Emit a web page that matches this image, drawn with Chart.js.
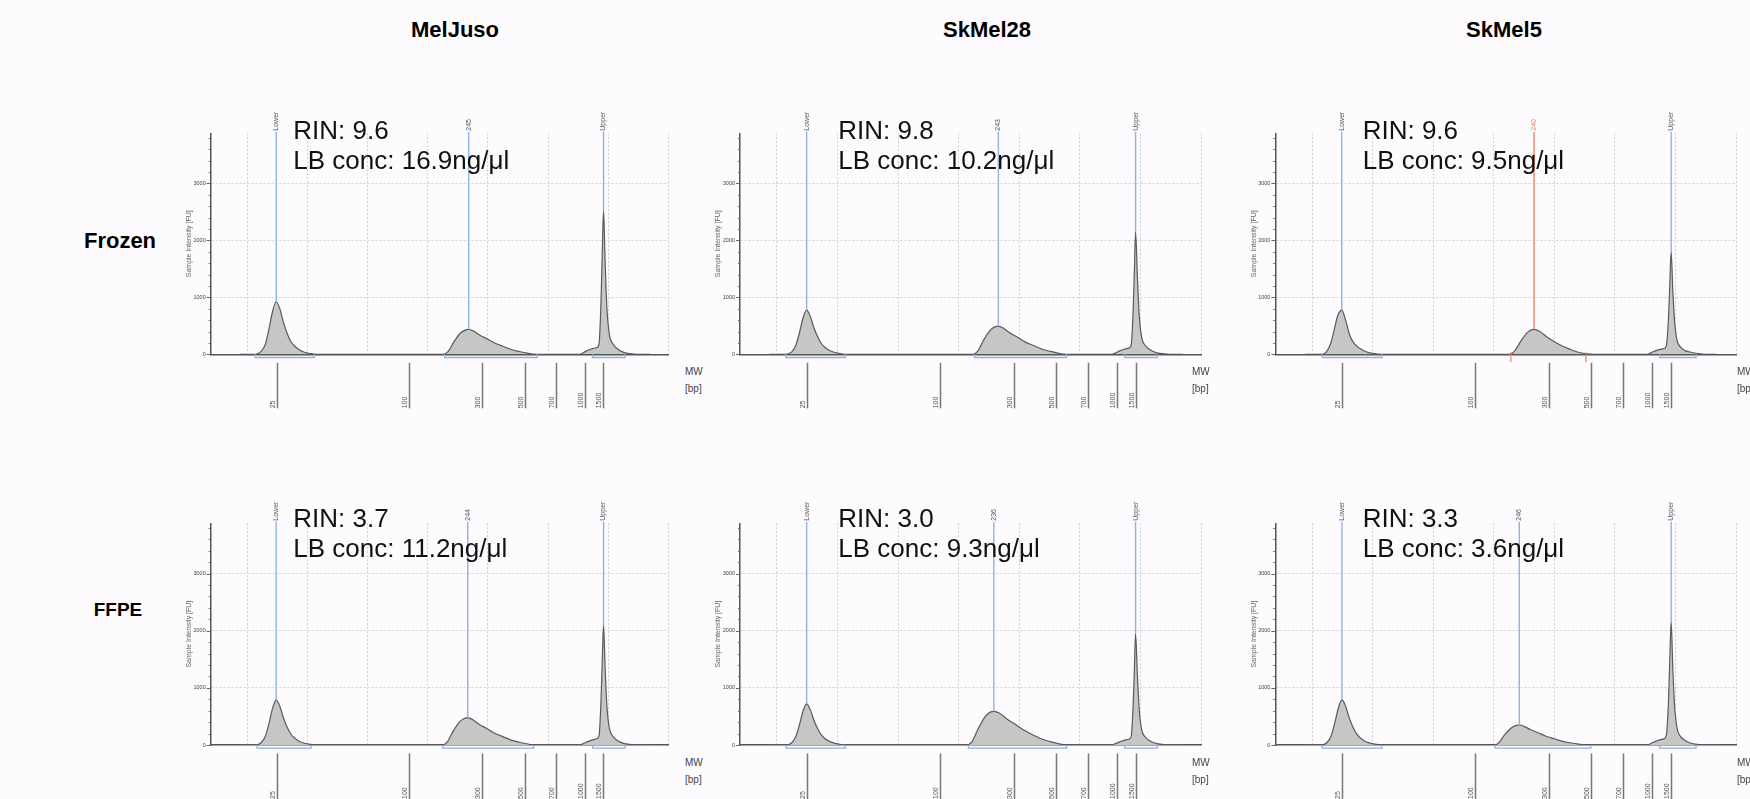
<!DOCTYPE html>
<html><head><meta charset="utf-8">
<script src="https://cdn.jsdelivr.net/npm/chart.js@4.4.1/dist/chart.umd.min.js"></script>
<style>
html,body{margin:0;padding:0;background:#fdfbfd;}
body{width:1750px;height:799px;position:relative;overflow:hidden;font-family:"Liberation Sans",Arial,sans-serif;}
.ttl{position:absolute;font-weight:bold;font-size:22px;line-height:26px;color:#000;white-space:nowrap;transform:translateX(-50%);}
.info{position:absolute;font-size:26px;line-height:30px;color:#111;white-space:nowrap;}
.mw{position:absolute;font-size:10px;line-height:17px;color:#444;white-space:nowrap;}
canvas{position:absolute;}
</style></head>
<body>
<script>
// ---------------- data ----------------
const colTitles = ['MelJuso','SkMel28','SkMel5'];
const rowTitles = ['Frozen','FFPE'];
const rinValues = ['9.6','9.8','9.6','3.7','3.0','3.3'];
const lbConcValues = ['16.9','10.2','9.5','11.2','9.3','3.6'];
const peakLabels = ['245','243','240','244','236','246'];
const ladderSizes = ['25','100','300','500','700','1000','1500'];
const ladderPositions = [14.95,36.95,49.1,56.1,61.4,66.2,69.2];
const lowerPositions = [14.8,14.9,14.86,14.78,14.9,14.9];
const middlePositions = [46.8,46.55,46.64,46.65,45.8,44.2];
const upperPositions = [69.23,69.2,69.29,69.23,69.2,69.29];
const lowerBrackets = [[11.3,21.1],[11.5,21.3],[11.65,21.5],[11.6,20.6],[11.5,21.3],[11.65,21.5]];
const middleBrackets = [[42.8,58.2],[42.6,57.8],null,[42.5,57.6],[41.6,57.8],[40.2,56.0]];
const regionTicks = [null,null,[42.8,55.2],null,null,null];
const upperBrackets = [[67.4,72.8],[67.4,72.8],[67.4,73.4],[67.4,72.8],[67.4,72.8],[67.4,73.4]];
const yTickValues = [0,1000,2000,3000];
const yMax = 3880;
const xGridValues = [10,20,30,40,50,60,70,80];

const traceMelJusoFrozen = [[8.8,0],[11.3,0],[12.3,50],[13.0,180],[13.6,450],[14.2,760],[14.8,923],[15.4,800],[16.0,560],[16.6,370],[17.2,230],[17.8,150],[18.6,80],[19.5,35],[20.5,12],[21.5,0],
 [42.6,0],[43.4,50],[44.3,210],[45.4,370],[46.2,425],[46.8,439],[47.6,410],[48.6,340],[49.9,268],[51.2,195],[52.7,133],[54.0,80],[55.4,45],[56.6,20],[57.5,5],[58.5,0],
 [65.2,0],[66.0,35],[66.6,70],[67.4,100],[68.2,125],[68.5,200],[68.8,900],[69.0,1700],[69.23,2531],[69.5,1600],[69.8,800],[70.2,350],[70.8,180],[71.6,90],[72.7,30],[74.3,5],[75.5,0],[77.0,0]];
const traceSkMel28Frozen = [[8.8,0],[11.4,0],[12.4,39],[13.1,155],[13.7,373],[14.3,637],[14.9,777],[15.5,668],[16.1,466],[16.7,311],[17.3,194],[17.9,124],[18.7,66],[19.6,31],[20.6,10],[21.6,0],
 [42.35,0],[43.15,55],[44.05,238],[45.15,417],[45.95,481],[46.55,496],[47.35,461],[48.35,382],[49.65,303],[50.95,218],[52.45,149],[53.75,89],[55.15,50],[56.35,22],[57.25,5],[58.25,0],
 [65.2,0],[66.0,30],[66.6,60],[67.4,90],[68.2,115],[68.5,180],[68.8,780],[69.0,1450],[69.2,2160],[69.5,1370],[69.8,690],[70.2,300],[70.8,155],[71.6,80],[72.7,26],[74.3,5],[75.5,0],[77.0,0]];
const traceSkMel5Frozen = [[8.8,0],[11.5,0],[12.3,40],[13.0,180],[13.6,420],[14.2,680],[14.86,777],[15.5,600],[16.2,330],[16.9,190],[17.9,100],[19.0,40],[20.1,15],[21.2,0],
 [42.6,0],[43.5,70],[44.5,240],[45.6,390],[46.64,439],[47.6,400],[48.7,310],[49.8,233],[51.2,150],[52.6,88],[53.8,40],[54.8,18],[56.0,5],[57.0,0],
 [65.3,0],[66.0,30],[66.9,70],[67.6,90],[68.2,105],[68.5,160],[68.85,650],[69.05,1200],[69.29,1800],[69.55,1140],[69.85,580],[70.25,250],[70.8,130],[71.6,65],[72.4,40],[74.1,10],[75.3,0],[76.8,0]];
const traceMelJusoFFPE = [[8.8,0],[11.3,0],[12.3,39],[13.0,157],[13.6,378],[14.2,645],[14.78,787],[15.4,677],[16.0,472],[16.6,315],[17.2,197],[17.8,126],[18.6,67],[19.5,31],[20.5,10],[21.5,0],
 [42.45,0],[43.25,53],[44.15,229],[45.25,402],[46.05,464],[46.65,478],[47.45,445],[48.45,368],[49.75,292],[51.05,210],[52.55,143],[53.85,86],[55.25,48],[56.45,22],[57.35,5],[58.35,0],
 [65.2,0],[66.0,30],[66.6,60],[67.4,90],[68.2,115],[68.5,175],[68.8,750],[69.0,1410],[69.23,2100],[69.5,1330],[69.8,665],[70.2,290],[70.8,150],[71.6,75],[72.7,25],[74.3,5],[75.5,0],[77.0,0]];
const traceSkMel28FFPE = [[8.8,0],[11.4,0],[12.4,36],[13.1,144],[13.7,346],[14.3,590],[14.9,720],[15.5,619],[16.1,432],[16.7,288],[17.3,180],[17.9,115],[18.7,61],[19.6,29],[20.6,9],[21.6,0],
 [41.3,0],[42.2,60],[43.2,280],[44.4,500],[45.2,575],[45.8,590],[46.7,560],[47.8,470],[49.2,370],[50.6,270],[52.2,180],[53.6,110],[55.1,60],[56.4,25],[57.4,6],[58.4,0],
 [65.2,0],[66.0,30],[66.6,55],[67.4,85],[68.2,105],[68.5,165],[68.8,700],[69.0,1310],[69.2,1950],[69.5,1230],[69.8,620],[70.2,270],[70.8,140],[71.6,70],[72.7,23],[74.3,4],[75.5,0],[77.0,0]];
const traceSkMel5FFPE = [[8.8,0],[11.4,0],[12.4,40],[13.1,158],[13.7,379],[14.3,648],[14.9,790],[15.5,679],[16.1,474],[16.7,316],[17.3,198],[17.9,126],[18.7,67],[19.6,32],[20.6,10],[21.6,0],
 [40.0,0],[40.8,38],[41.7,168],[42.8,294],[43.6,340],[44.2,350],[45.0,326],[46.0,270],[47.3,214],[48.6,154],[50.1,105],[51.4,63],[52.8,35],[54.0,16],[54.9,4],[55.9,0],
 [65.3,0],[66.0,30],[66.6,60],[67.4,90],[68.2,115],[68.5,180],[68.85,780],[69.05,1450],[69.29,2160],[69.55,1370],[69.85,690],[70.25,300],[70.8,155],[71.6,80],[72.7,26],[74.3,5],[75.5,0],[77.0,0]];
const traces = [traceMelJusoFrozen,traceSkMel28Frozen,traceSkMel5Frozen,traceMelJusoFFPE,traceSkMel28FFPE,traceSkMel5FFPE];

// ---------------- layout (style only) ----------------
const colAxisLeft = [210.7, 740, 1275.4];
const colAxisRight = [668.3, 1201, 1736];
const rowAxisTop = [133.3, 523.3];
const rowAxisBottom = [354.3, 745];
const colTitleX = [455, 987, 1504];
const rowTitleXY = [[120,241,22],[118,610,19]];
const infoX = [293.3, 838.3, 1362.7];
const infoBaseline = [139.3, 526.7];
const mwX = [685, 1192, 1737];
const Y_AXIS_W = 26;

const BLUE = '#8db3e2', RED = '#e8836b', GRIDC = '#cfcfcf';
const FONT = '"Liberation Sans", Arial, sans-serif';

function addDiv(cls, x, y, html){
  const d=document.createElement('div'); d.className=cls; d.style.left=x+'px'; d.style.top=y+'px'; d.innerHTML=html; document.body.appendChild(d); return d;
}
colTitles.forEach((t,i)=>addDiv('ttl', colTitleX[i], 17, t));
rowTitles.forEach((t,i)=>{ const d=addDiv('ttl', rowTitleXY[i][0], rowTitleXY[i][1]-13, t); d.style.fontSize=rowTitleXY[i][2]+'px'; });

function peakHeightAt(trace, x){
  let best=0;
  for(const p of trace){ if(Math.abs(p[0]-x)<=0.35 && p[1]>best) best=p[1]; }
  return best;
}

function makeDecor(idx){
  return {
    id:'decor'+idx,
    afterDraw(chart){
      const ctx=chart.ctx, xs=chart.scales.x, ys=chart.scales.y, ca=chart.chartArea;
      const trace=traces[idx];
      ctx.save();
      // y minor ticks
      ctx.strokeStyle='#666'; ctx.lineWidth=1;
      for(let v=0; v<=yMax; v+=200){
        const y=Math.round(ys.getPixelForValue(v))+0.5;
        const len=(v%1000===0)?4:2;
        ctx.beginPath(); ctx.moveTo(ca.left-len,y); ctx.lineTo(ca.left,y); ctx.stroke();
      }
      // markers
      const markers=[
        {x:lowerPositions[idx], label:'Lower', color:BLUE, tcol:'#555'},
        {x:middlePositions[idx], label:peakLabels[idx], color: idx===2?RED:BLUE, tcol: idx===2?RED:'#555'},
        {x:upperPositions[idx], label:'Upper', color:BLUE, tcol:'#555'}
      ];
      const topY=ca.top-1.6;
      markers.forEach(m=>{
        const px=xs.getPixelForValue(m.x);
        const py=ys.getPixelForValue(peakHeightAt(trace,m.x));
        ctx.strokeStyle=m.color; ctx.lineWidth=1.4;
        ctx.beginPath(); ctx.moveTo(px,topY); ctx.lineTo(px,py); ctx.stroke();
        ctx.save(); ctx.translate(px,topY-1); ctx.rotate(-Math.PI/2);
        ctx.fillStyle=m.tcol; ctx.font='7px '+FONT; ctx.textAlign='left'; ctx.textBaseline='middle';
        ctx.fillText(m.label,0,0); ctx.restore();
      });
      // brackets
      const by=ca.bottom+3.2;
      [lowerBrackets[idx], middleBrackets[idx], upperBrackets[idx]].forEach(b=>{
        if(!b) return;
        const a=xs.getPixelForValue(b[0]), c=xs.getPixelForValue(b[1]);
        ctx.strokeStyle=BLUE; ctx.lineWidth=1.3;
        ctx.beginPath(); ctx.moveTo(a,ca.bottom); ctx.lineTo(a,by); ctx.lineTo(c,by); ctx.lineTo(c,ca.bottom); ctx.stroke();
      });
      if(regionTicks[idx]){
        regionTicks[idx].forEach(v=>{
          const px=xs.getPixelForValue(v);
          ctx.strokeStyle=RED; ctx.lineWidth=1.2;
          ctx.beginPath(); ctx.moveTo(px,ca.bottom-2); ctx.lineTo(px,ca.bottom+8); ctx.stroke();
        });
      }
      // ladder
      ladderSizes.forEach((s,k)=>{
        const px=Math.round(xs.getPixelForValue(ladderPositions[k]))+0.5;
        ctx.strokeStyle='#777'; ctx.lineWidth=1.5;
        ctx.beginPath(); ctx.moveTo(px,ca.bottom+8.5); ctx.lineTo(px,ca.bottom+54); ctx.stroke();
        ctx.save(); ctx.translate(px-4,ca.bottom+54); ctx.rotate(-Math.PI/2);
        ctx.fillStyle='#555'; ctx.font='7px '+FONT; ctx.textAlign='left'; ctx.textBaseline='middle';
        ctx.fillText(s,0,0); ctx.restore();
      });
      ctx.restore();
    }
  };
}

for(let r=0;r<2;r++){
  for(let c=0;c<3;c++){
    const idx=r*3+c;
    const aL=colAxisLeft[c], aR=colAxisRight[c], aT=rowAxisTop[r], aB=rowAxisBottom[r];
    const cvL=Math.floor(aL)-60, cvT=Math.floor(aT)-45;
    const cvW=Math.ceil(aR-cvL)+12, cvH=Math.ceil(aB-cvT)+62;
    const cv=document.createElement('canvas');
    cv.width=cvW; cv.height=cvH; cv.style.left=cvL+'px'; cv.style.top=cvT+'px';
    cv.style.width=cvW+'px'; cv.style.height=cvH+'px';
    document.body.appendChild(cv);
    const pad={left:aL-cvL-Y_AXIS_W, top:aT-cvT, right:cvW-(aR-cvL), bottom:cvH-(aB-cvT)};
    new Chart(cv,{
      type:'line',
      data:{datasets:[{
        data:traces[idx].map(p=>({x:p[0],y:p[1]})),
        borderColor:'#5a5a5a', borderWidth:1.2, backgroundColor:'#c6c6c6',
        fill:'origin', pointRadius:0, cubicInterpolationMode:'monotone'
      }]},
      options:{
        responsive:false, animation:false, devicePixelRatio:1,
        layout:{padding:pad},
        plugins:{legend:{display:false}, tooltip:{enabled:false}},
        scales:{
          x:{type:'linear', min:3.9, max:80,
            afterBuildTicks:(s)=>{s.ticks=xGridValues.map(v=>({value:v}));},
            afterFit:(s)=>{s.height=0;},
            ticks:{display:false},
            grid:{color:GRIDC, lineWidth:1, drawTicks:false},
            border:{display:true, color:'#555', width:1.5, dash:[2,2]}
          },
          y:{type:'linear', min:0, max:yMax,
            afterBuildTicks:(s)=>{s.ticks=yTickValues.map(v=>({value:v}));},
            afterFit:(s)=>{s.width=Y_AXIS_W;},
            ticks:{color:'#444', font:{size:5.5, family:FONT}, padding:5, callback:(v)=>String(v)},
            grid:{color:(ctx)=>ctx.tick && ctx.tick.value===0?'rgba(0,0,0,0)':GRIDC, lineWidth:1, drawTicks:false},
            border:{display:true, color:'#555', width:1.5, dash:[2,2]},
            title:{display:true, text:'Sample Intensity [FU]', color:'#666', font:{size:7, family:FONT}, padding:{top:0,bottom:0}}
          }
        }
      },
      plugins:[makeDecor(idx)]
    });
    addDiv('info', infoX[c], infoBaseline[r]-24, 'RIN: '+rinValues[idx]+'<br>LB conc: '+lbConcValues[idx]+'ng/&mu;l');
    addDiv('mw', mwX[c], aB+9, 'MW<br>[bp]');
  }
}
</script>
</body></html>
